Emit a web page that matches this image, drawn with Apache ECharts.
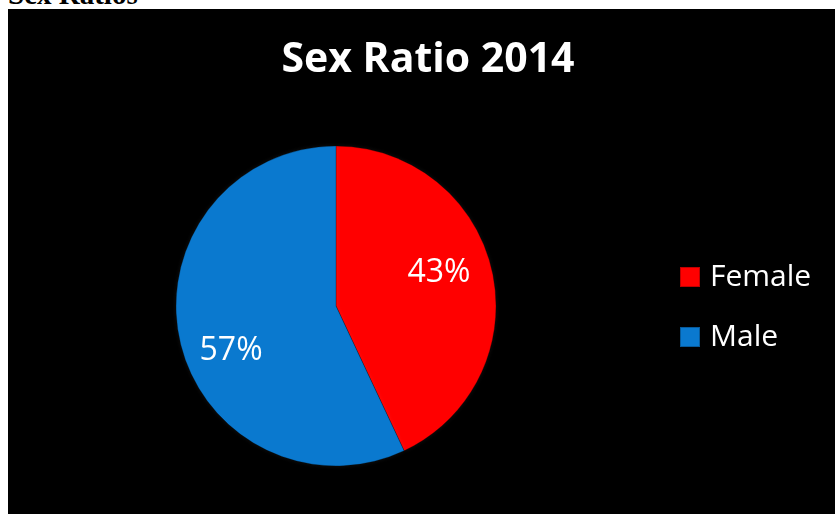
<!DOCTYPE html>
<html>
<head>
<meta charset="utf-8">
<script src="https://cdn.jsdelivr.net/npm/echarts@6/dist/echarts.min.js"></script>
<style>
  html, body { margin: 0; padding: 0; background: #fff; width: 835px; height: 515px; overflow: hidden; }
  #caption { position: absolute; left: 8px; top: -22px; font: bold 29px "Liberation Serif", "DejaVu Serif", serif; color: #000; }
  #main { position: absolute; left: 8px; top: 9px; width: 827px; height: 505px; }
</style>
</head>
<body>
<div id="caption">Sex Ratios</div>
<div id="main"></div>
<script>
// chart data
const categories = ['Female', 'Male']
const shares = [43, 57]
const colors = ['#ff0000', '#0a79cf']

const chart = echarts.init(document.getElementById('main'))

const pieData = categories.map((name, i) => ({
  name: name,
  value: shares[i],
  itemStyle: { color: colors[i] }
}))

// same data, only used to place the % labels further out than the default
const labelData = categories.map((name, i) => ({
  name: name,
  value: shares[i],
  itemStyle: { color: 'rgba(0,0,0,0)' }
}))

chart.setOption({
  backgroundColor: '#000000',
  animation: false,
  title: {
    text: 'Sex Ratio 2014',
    left: 415,
    textAlign: 'center',
    top: 26,
    textStyle: {
      color: '#ffffff',
      fontFamily: 'Open Sans',
      fontWeight: 'bold',
      fontSize: 41
    }
  },
  legend: {
    orient: 'vertical',
    left: 666,
    top: 248,
    itemWidth: 20,
    itemHeight: 20,
    itemGap: 30,
    icon: 'rect',
    data: categories,
    textStyle: {
      color: '#ffffff',
      fontFamily: 'Open Sans',
      fontSize: 30,
      padding: [0, 0, 0, 5]
    }
  },
  series: [{
    type: 'pie',
    center: [328, 297],
    radius: 160,
    startAngle: 90,
    clockwise: true,
    label: { show: false },
    labelLine: { show: false },
    itemStyle: {
      borderColor: 'rgba(0,0,0,0.25)',
      borderWidth: 1,
      shadowColor: 'rgba(255,255,255,0.08)',
      shadowBlur: 4
    },
    emphasis: { disabled: true },
    data: pieData
  }, {
    type: 'pie',
    silent: true,
    center: [327, 303],
    radius: [56, 160],
    startAngle: 98,
    clockwise: true,
    label: {
      position: 'inside',
      formatter: '{d}%',
      color: '#ffffff',
      fontFamily: 'Open Sans',
      fontSize: 32
    },
    labelLine: { show: false },
    emphasis: { disabled: true },
    data: labelData
  }]
})
</script>
</body>
</html>
